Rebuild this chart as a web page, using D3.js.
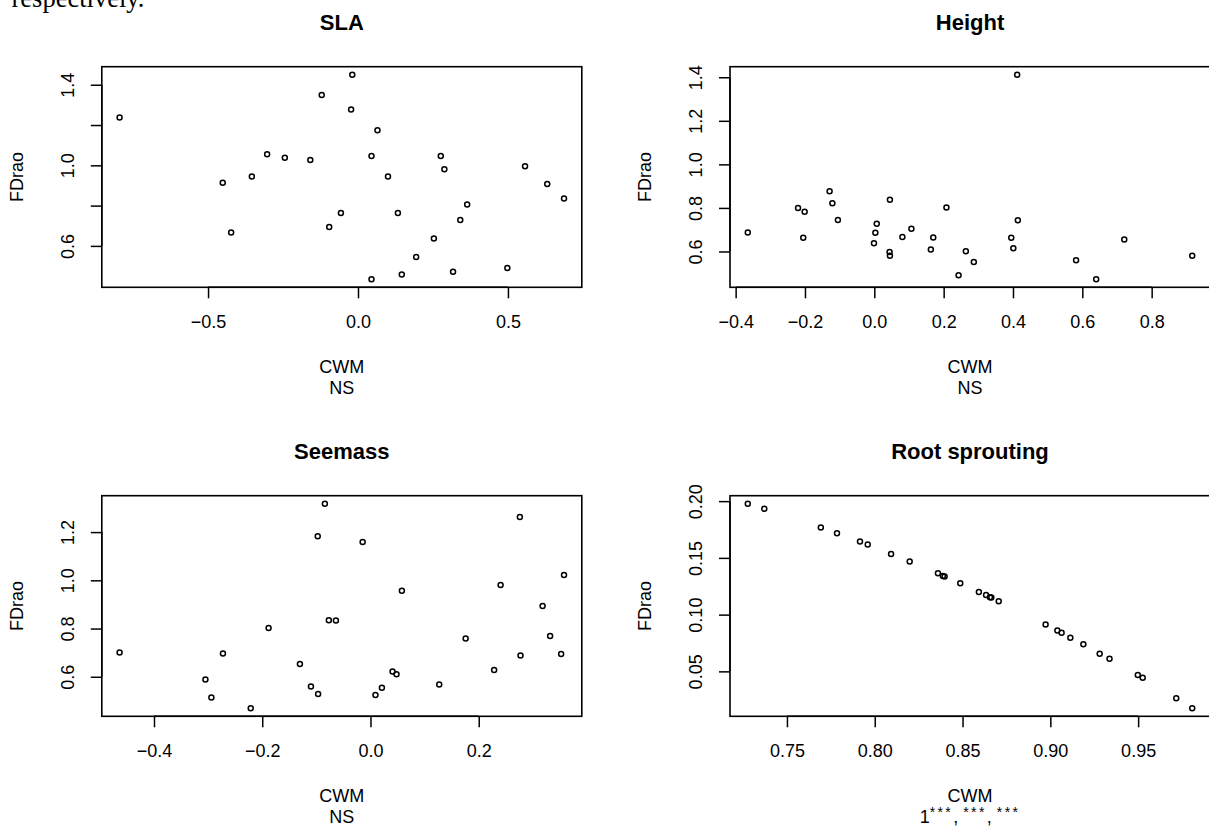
<!DOCTYPE html>
<html><head><meta charset="utf-8">
<script src="https://cdn.jsdelivr.net/npm/d3@7"></script>
<style>body{margin:0;background:#fff;overflow:hidden}svg{display:block}</style>
</head><body>
<svg id="c" width="1209" height="827"></svg>
<script>
// ---------- data ----------
const panelTitles = ["SLA", "Height", "Seemass", "Root sprouting"];
const xAxisTitle = "CWM";
const yAxisTitle = "FDrao";
const sigLabels = ["NS", "NS", "NS", ""];

const slaX = [-0.795,-0.451,-0.423,-0.354,-0.303,-0.244,-0.159,-0.121,-0.096,-0.057,-0.019,-0.023,0.065,0.045,0.045,0.100,0.133,0.146,0.194,0.253,0.276,0.288,0.317,0.341,0.364,0.498,0.557,0.631,0.687];
const slaY = [1.237,0.914,0.666,0.944,1.055,1.038,1.026,1.349,0.694,0.763,1.449,1.277,1.174,1.046,0.435,0.945,0.763,0.458,0.545,0.637,1.046,0.980,0.472,0.728,0.805,0.490,0.995,0.907,0.835];

const heightX = [-0.365,-0.220,-0.201,-0.205,-0.129,-0.121,-0.105,-0.001,0.003,0.007,0.045,0.044,0.045,0.081,0.107,0.163,0.170,0.208,0.243,0.264,0.287,0.395,0.401,0.412,0.414,0.582,0.640,0.721,0.917];
const heightY = [0.687,0.800,0.782,0.663,0.876,0.822,0.744,0.638,0.686,0.727,0.837,0.598,0.580,0.666,0.704,0.609,0.664,0.802,0.491,0.601,0.552,0.663,0.615,1.411,0.743,0.560,0.473,0.655,0.580];

const seemassX = [-0.0843,-0.0975,-0.0145,0.276,-0.4636,-0.305,-0.294,-0.2726,-0.2213,-0.1883,-0.1304,-0.110,-0.0968,-0.077,-0.0639,0.0092,0.0211,0.0408,0.0481,0.058,0.127,0.1758,0.2285,0.2404,0.2772,0.318,0.3319,0.3523,0.3576];
const seemassY = [1.317,1.183,1.159,1.263,0.701,0.589,0.514,0.697,0.470,0.802,0.653,0.560,0.529,0.834,0.833,0.524,0.554,0.622,0.611,0.957,0.568,0.759,0.628,0.981,0.688,0.893,0.769,0.694,1.022];

const rootX = [0.7277,0.7371,0.7693,0.7785,0.7916,0.7960,0.8093,0.8199,0.8360,0.8388,0.8398,0.8487,0.8593,0.8634,0.8656,0.8664,0.8706,0.8973,0.9040,0.9064,0.9114,0.9188,0.9281,0.9337,0.9498,0.9526,0.9717,0.9808];
const rootY = [0.1976,0.1932,0.1768,0.1718,0.1644,0.1618,0.1535,0.1468,0.1365,0.1341,0.1335,0.1276,0.1200,0.1174,0.1153,0.1150,0.1118,0.0912,0.0859,0.0841,0.0797,0.0738,0.0656,0.0612,0.0468,0.0444,0.0262,0.0176];

const slaXTicks = [-0.5, 0, 0.5];
const slaXTickLabels = ["\u22120.5", "0.0", "0.5"];
const slaYTicks = [0.6, 0.8, 1.0, 1.2, 1.4];
const slaYTickLabels = ["0.6", "", "1.0", "", "1.4"];

const heightXTicks = [-0.4, -0.2, 0, 0.2, 0.4, 0.6, 0.8];
const heightXTickLabels = ["\u22120.4", "\u22120.2", "0.0", "0.2", "0.4", "0.6", "0.8"];
const heightYTicks = [0.6, 0.8, 1.0, 1.2, 1.4];
const heightYTickLabels = ["0.6", "0.8", "1.0", "1.2", "1.4"];

const seemassXTicks = [-0.4, -0.2, 0, 0.2];
const seemassXTickLabels = ["\u22120.4", "\u22120.2", "0.0", "0.2"];
const seemassYTicks = [0.6, 0.8, 1.0, 1.2];
const seemassYTickLabels = ["0.6", "0.8", "1.0", "1.2"];

const rootXTicks = [0.75, 0.80, 0.85, 0.90, 0.95];
const rootXTickLabels = ["0.75", "0.80", "0.85", "0.90", "0.95"];
const rootYTicks = [0.05, 0.10, 0.15, 0.20];
const rootYTickLabels = ["0.05", "0.10", "0.15", "0.20"];

// ---------- layout ----------
const FONT = "'Liberation Sans', Arial, Helvetica, sans-serif";
const svg = d3.select("#c");

// caption fragment from the page above (cut off at the top, as in the source)
svg.append("text").attr("x", 11.5).attr("y", 6.5)
  .attr("font-family", "'Liberation Serif', 'Times New Roman', serif")
  .attr("font-size", 26.5).attr("fill", "#000").text("respectively.");

const cols = [101.8, 730];
const colW = 480;
const rows = [66.7, 495.7];
const rowH = 220.6;

const panels = [
  {x: slaX, y: slaY, xt: slaXTicks, xl: slaXTickLabels, yt: slaYTicks, yl: slaYTickLabels},
  {x: heightX, y: heightY, xt: heightXTicks, xl: heightXTickLabels, yt: heightYTicks, yl: heightYTickLabels},
  {x: seemassX, y: seemassY, xt: seemassXTicks, xl: seemassXTickLabels, yt: seemassYTicks, yl: seemassYTickLabels},
  {x: rootX, y: rootY, xt: rootXTicks, xl: rootXTickLabels, yt: rootYTicks, yl: rootYTickLabels}
];

function rDomain(v) {
  const [a, b] = d3.extent(v);
  const p = (b - a) * 0.04;
  return [a - p, b + p];
}

panels.forEach((p, i) => {
  const L = cols[i % 2], T = rows[Math.floor(i / 2)];
  const R = L + colW, B = T + rowH;
  const xs = d3.scaleLinear().domain(rDomain(p.x)).range([L, R]);
  const ys = d3.scaleLinear().domain(rDomain(p.y)).range([B, T]);
  const g = svg.append("g");

  // title
  g.append("text").attr("x", (L + R) / 2).attr("y", T - 36.5)
    .attr("text-anchor", "middle").attr("font-family", FONT)
    .attr("font-weight", "bold").attr("font-size", 22).text(panelTitles[i]);

  // x axis
  const xAxis = d3.axisBottom(xs).tickValues(p.xt).tickSize(11)
    .tickFormat((d, k) => p.xl[k]);
  const gx = g.append("g").attr("transform", `translate(0,${B})`).call(xAxis);
  gx.select(".domain").attr("d", `M${xs(p.xt[0])},0H${xs(p.xt[p.xt.length - 1])}`)
    .attr("stroke", "#000").attr("stroke-width", 1.5);
  gx.selectAll(".tick line").attr("stroke", "#000").attr("stroke-width", 1.5);
  gx.selectAll(".tick text").attr("font-family", FONT).attr("font-size", 18)
    .attr("fill", "#000").attr("y", 41).attr("dy", 0);

  // y axis
  const yAxis = d3.axisLeft(ys).tickValues(p.yt).tickSize(11)
    .tickFormat((d, k) => p.yl[k]);
  const gy = g.append("g").attr("transform", `translate(${L},0)`).call(yAxis);
  gy.select(".domain").attr("d", `M0,${ys(p.yt[0])}V${ys(p.yt[p.yt.length - 1])}`)
    .attr("stroke", "#000").attr("stroke-width", 1.5);
  gy.selectAll(".tick line").attr("stroke", "#000").attr("stroke-width", 1.5);
  gy.selectAll(".tick text").attr("font-family", FONT).attr("font-size", 18)
    .attr("fill", "#000").attr("x", 0).attr("y", 0).attr("dy", "0.36em")
    .attr("text-anchor", "middle")
    .attr("transform", "translate(-34,0) rotate(-90)");

  // box
  g.append("rect").attr("x", L).attr("y", T).attr("width", R - L).attr("height", B - T)
    .attr("fill", "none").attr("stroke", "#000").attr("stroke-width", 1.6);

  // points
  g.append("g").selectAll("circle").data(p.x.map((v, k) => [v, p.y[k]])).join("circle")
    .attr("cx", d => xs(d[0])).attr("cy", d => ys(d[1])).attr("r", 2.5)
    .attr("fill", "none").attr("stroke", "#000").attr("stroke-width", 1.5);

  // axis titles
  g.append("text").attr("x", (L + R) / 2).attr("y", B + 85.4)
    .attr("text-anchor", "middle").attr("font-family", FONT).attr("font-size", 18)
    .text(xAxisTitle);
  const sig = g.append("text").attr("x", (L + R) / 2).attr("y", B + 107)
    .attr("text-anchor", "middle").attr("font-family", FONT).attr("font-size", 18);
  if (sigLabels[i]) {
    sig.text(sigLabels[i]);
  } else {
    const parts = [["1", false], ["***", true], [",", false], [" ", false], ["***", true], [",", false], [" ", false], ["***", true]];
    let raised = false;
    parts.forEach(([t, sup]) => {
      const ts = sig.append("tspan").text(t);
      if (sup) {
        ts.attr("font-size", 14).attr("letter-spacing", 2.4);
        if (!raised) { ts.attr("dy", -6); raised = true; }
      } else if (raised) {
        ts.attr("dy", 6); raised = false;
      }
    });
  }
  g.append("text").attr("transform", `translate(${L - 85},${(T + B) / 2}) rotate(-90)`)
    .attr("text-anchor", "middle").attr("dy", "0.36em").attr("font-family", FONT)
    .attr("font-size", 18).text(yAxisTitle);
});
</script>
</body></html>
